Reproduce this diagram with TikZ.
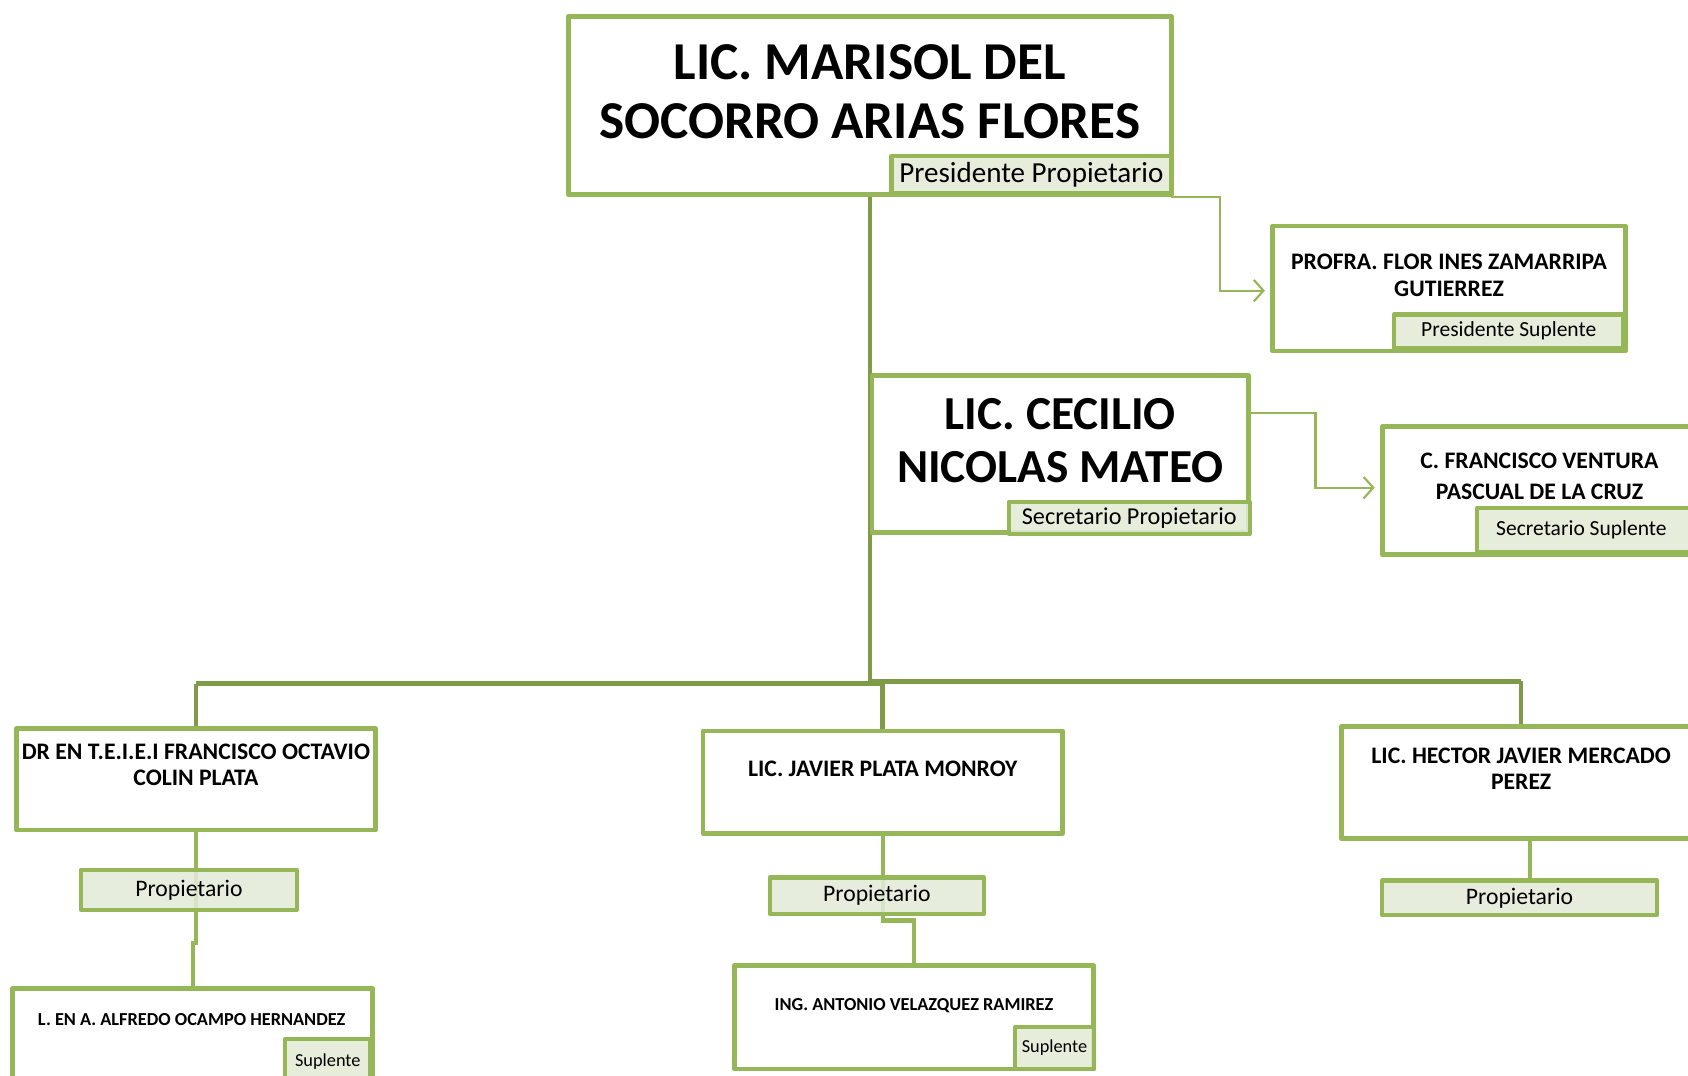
\documentclass[tikz,border=0pt]{standalone}
\usepackage{fontspec}
\setmainfont{Carlito}
\usetikzlibrary{arrows.meta}
\definecolor{gborder}{HTML}{96B757}
\definecolor{gdark}{HTML}{809B48}
\definecolor{glabel}{HTML}{E3EBD7}
\begin{document}
\begin{tikzpicture}[x=1pt,y=-1pt,
  box/.style={draw=gborder, line width=4.5pt, fill=white, inner sep=0pt, line join=round},
  lab/.style={draw=gborder, line width=4pt, fill=glabel, fill opacity=0.88, text opacity=1, inner sep=0pt, line join=round},
  txt/.style={align=center, inner sep=0pt, anchor=north, font=\bfseries},
  bus/.style={draw=gdark, line width=4.3pt},
  conn/.style={draw=gborder, line width=4pt},
  thinarrow/.style={draw=gborder, line width=2pt, -{Straight Barb[length=9pt,width=20pt]}, shorten >=7pt}
]
\useasboundingbox (0,0) rectangle (1568,999);
\clip (0,0) rectangle (1568,999);

% junction coordinates
\coordinate (j0) at (808,635);
\coordinate (jl) at (182,635);
\coordinate (jm) at (820,635);
\coordinate (j1) at (808,633);
\coordinate (jr) at (1413,633);

% ---- connectors first ----
\coordinate (topS) at (808,181);
\draw[bus] (topS) -- (j0);
\draw[bus] (jl) -- (j0) -- (jm) -- (820,679);
\draw[bus] (j1) -- (jr);
\draw[bus] (jl) -- (182,677);
\draw[bus] (jr) -- (1413,675);

\coordinate (pp0) at (1088,183);
\coordinate (pp1) at (1133,183);
\draw[thinarrow] (pp0) -- (pp1) |- (1182,270);
\coordinate (sp0) at (1162,384);
\coordinate (sp1) at (1222,384);
\draw[thinarrow] (sp0) -- (sp1) |- (1284,453);

\coordinate (d0) at (182,771);
\coordinate (d1) at (182,876);
\coordinate (d2) at (179,876);
\draw[conn] (d0) -- (d1) -- (d2) -- (179,918);
\coordinate (m0) at (820,774);
\coordinate (m1) at (820,855);
\coordinate (m2) at (849,855);
\draw[conn] (m0) -- (m1) -- (m2) -- (849,897);
\coordinate (h0) at (1421,779);
\draw[conn] (h0) -- (1421,818);

% ---- main boxes ----
\node[box, minimum width=560pt, minimum height=166pt] (top) at (808,98) {};
\node[box, minimum width=328pt, minimum height=116pt] (PS) at (1346,268) {};
\node[box, minimum width=350pt, minimum height=146pt] (SEC) at (985,422) {};
\node[box, minimum width=294pt, minimum height=119pt] (SS) at (1431,455.5) {};
\node[box, minimum width=334pt, minimum height=94pt] (DR) at (182,724) {};
\node[box, minimum width=334pt, minimum height=92pt] (AL) at (179,964) {};
\node[box, minimum width=334pt, minimum height=95pt] (JAV) at (820,726.5) {};
\node[box, minimum width=334pt, minimum height=96pt] (ING) at (849,945) {};
\node[box, minimum width=334pt, minimum height=104pt] (HEC) at (1413,727) {};

% ---- names ----
\node[txt, font=\bfseries\fontsize{49.5}{55}\selectfont] (tTop) at (808,41) {LIC. MARISOL DEL\\SOCORRO ARIAS FLORES};
\node[txt, font=\bfseries\fontsize{22}{25}\selectfont] (tPS) at (1346,236) {PROFRA. FLOR INES ZAMARRIPA\\GUTIERREZ};
\node[txt, font=\bfseries\fontsize{44}{49}\selectfont] (tSEC) at (985,370) {LIC. CECILIO\\NICOLAS MATEO};
\node[txt, font=\bfseries\fontsize{22}{28}\selectfont] (tSS) at (1430,421) {C. FRANCISCO VENTURA\\PASCUAL DE LA CRUZ};
\node[txt, font=\bfseries\fontsize{22}{24}\selectfont] (tDR) at (182,691) {DR EN T.E.I.E.I FRANCISCO OCTAVIO\\COLIN PLATA};
\node[txt, font=\bfseries\fontsize{17}{20}\selectfont] (tAL) at (178,941) {L. EN A. ALFREDO OCAMPO HERNANDEZ};
\node[txt, font=\bfseries\fontsize{22}{24}\selectfont] (tJAV) at (820,707) {LIC. JAVIER PLATA MONROY};
\node[txt, font=\bfseries\fontsize{17}{20}\selectfont] (tING) at (849,927) {ING. ANTONIO VELAZQUEZ RAMIREZ};
\node[txt, font=\bfseries\fontsize{22}{24}\selectfont] (tHEC) at (1413,695) {LIC. HECTOR JAVIER MERCADO\\PEREZ};

% ---- role labels ----
\node[lab, minimum width=260pt, minimum height=34pt, font=\fontsize{27}{30}\selectfont] (lPP) at (958,162) {Presidente Propietario};
\node[lab, minimum width=213pt, minimum height=31pt, font=\fontsize{20}{24}\selectfont] (lPS) at (1401.5,307.5) {Presidente Suplente};
\node[lab, minimum width=224pt, minimum height=30pt, font=\fontsize{22.5}{26}\selectfont] (lSP) at (1049,481) {Secretario Propietario};
\node[lab, minimum width=206pt, minimum height=41pt, font=\fontsize{20}{24}\selectfont] (lSS) at (1475,492.5) {\hspace*{-12pt}Secretario Suplente};
\node[lab, minimum width=201pt, minimum height=37pt, font=\fontsize{22}{26}\selectfont] (lP1) at (175.5,826.5) {Propietario};
\node[lab, minimum width=79pt, minimum height=45pt, font=\fontsize{17}{20}\selectfont] (lS1) at (304.5,987.5) {\raisebox{5pt}{Suplente}};
\node[lab, minimum width=199pt, minimum height=34pt, font=\fontsize{22}{26}\selectfont] (lP2) at (814.5,832) {Propietario};
\node[lab, minimum width=73pt, minimum height=39pt, font=\fontsize{17}{20}\selectfont] (lS2) at (979.5,973.5) {Suplente};
\node[lab, minimum width=255pt, minimum height=32pt, font=\fontsize{22}{26}\selectfont] (lP3) at (1411.5,834) {Propietario};
\end{tikzpicture}
\end{document}
